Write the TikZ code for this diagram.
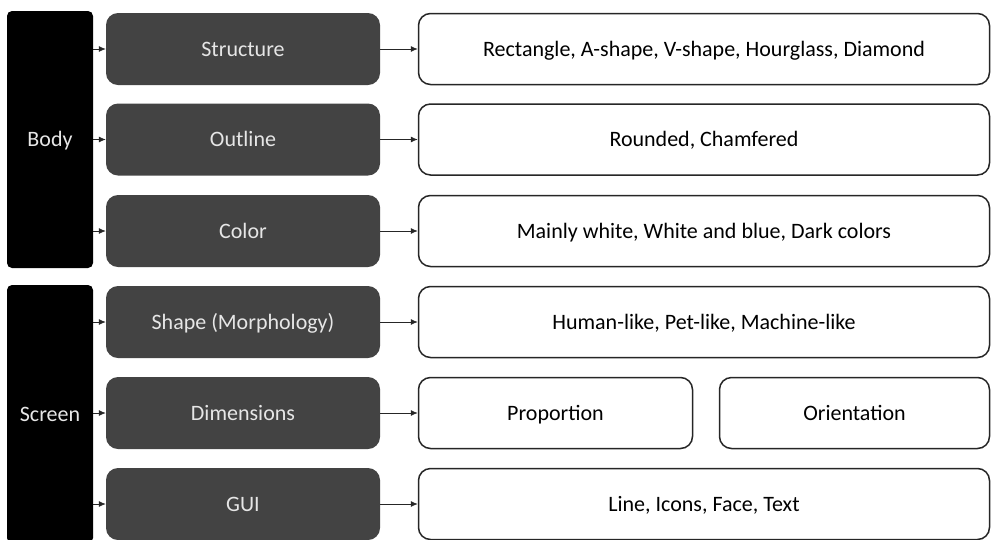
\documentclass[tikz,border=0pt]{standalone}
\usepackage{fontspec}
\setmainfont{Carlito}
\usetikzlibrary{arrows.meta}
\definecolor{boxgray}{HTML}{434343}
\definecolor{textlight}{HTML}{E6E6E6}
\begin{document}
\begin{tikzpicture}[x=1pt,y=-1pt,
 every node/.style={font=\fontsize{22}{26}\selectfont,text height=14pt,text depth=0pt},
 side/.style={fill=black,rounded corners=5pt,minimum width=86pt,inner sep=0pt,text=textlight},
 cat/.style={fill=boxgray,rounded corners=12pt,minimum width=274pt,minimum height=72pt,inner sep=0pt,text=textlight},
 item/.style={draw=black!85,line width=1.5pt,fill=white,rounded corners=12pt,minimum height=71pt,inner sep=0pt},
 link/.style={-{Latex[length=7pt,width=6pt]},line width=0.8pt,black!85}]
 \useasboundingbox (0,0) rectangle (993,539);
 \node[side,minimum height=257pt](body) at (50,139.5) {Body};
 \node[side,minimum height=258pt](screen) at (50,414) {Screen};
 \node[cat](struct) at (243,49) {Structure};
 \node[cat](outline) at (243,139.5) {Outline};
 \node[cat](color) at (243,231) {Color};
 \node[cat](shape) at (243,322) {Shape (Morphology)};
 \node[cat](dims) at (243,413) {Dimensions};
 \node[cat](gui) at (243,504) {GUI};
 \node[item,minimum width=571pt](structv) at (704,49) {Rectangle, A-shape, V-shape, Hourglass, Diamond};
 \node[item,minimum width=571pt](outlinev) at (704,139.5) {Rounded, Chamfered};
 \node[item,minimum width=571pt](colorv) at (704,231) {Mainly white, White and blue, Dark colors};
 \node[item,minimum width=571pt](shapev) at (704,322) {Human-like, Pet-like, Machine-like};
 \node[item,minimum width=274pt](prop) at (555.5,413) {Proportion};
 \node[item,minimum width=270pt](orient) at (854.5,413) {Orientation};
 \node[item,minimum width=571pt](guiv) at (704,504) {Line, Icons, Face, Text};
 % side to category
 \draw[link](body.east |- struct.west)--(struct.west);
 \draw[link](body.east |- outline.west)--(outline.west);
 \draw[link](body.east |- color.west)--(color.west);
 \draw[link](screen.east |- shape.west)--(shape.west);
 \draw[link](screen.east |- dims.west)--(dims.west);
 \draw[link](screen.east |- gui.west)--(gui.west);
 % category to values
 \draw[link](struct)--(structv);
 \draw[link](outline)--(outlinev);
 \draw[link](color)--(colorv);
 \draw[link](shape)--(shapev);
 \draw[link](dims)--(prop);
 \draw[link](gui)--(guiv);
\end{tikzpicture}
\end{document}
